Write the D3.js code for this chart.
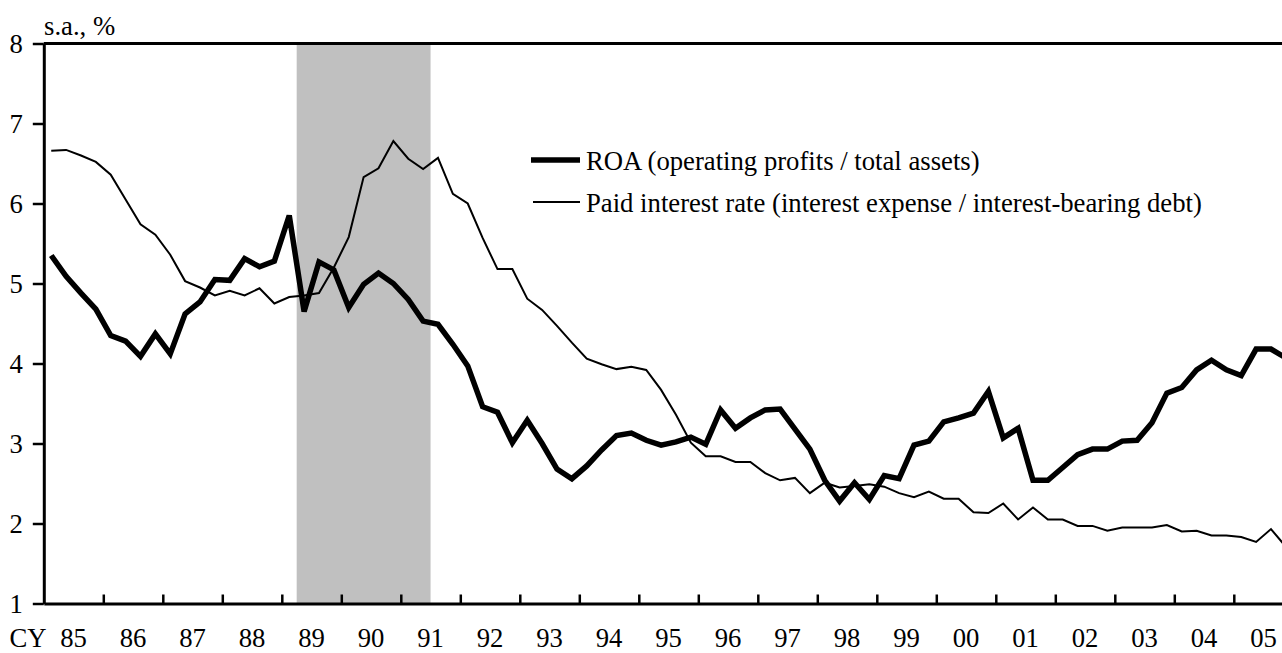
<!DOCTYPE html>
<html>
<head>
<meta charset="utf-8">
<script src="https://cdn.jsdelivr.net/npm/d3@7"></script>
<style>
  html, body { margin: 0; padding: 0; background: #fff; overflow: hidden; }
  svg { display: block; }
  text { font-family: "Liberation Serif", "Times New Roman", serif; font-size: 26.7px; fill: #000; }
</style>
</head>
<body>
<svg id="chart" width="1282" height="653"></svg>
<script>
// Quarterly series, 1985 Q1 onward
const startYear = 1985;
const roa = [
  5.35, 5.09, 4.88, 4.68, 4.35, 4.28, 4.09, 4.37, 4.12, 4.62,
  4.77, 5.05, 5.04, 5.31, 5.21, 5.28, 5.85, 4.65, 5.27, 5.17,
  4.70, 4.99, 5.13, 5.00, 4.80, 4.53, 4.49, 4.24, 3.97, 3.46,
  3.39, 3.01, 3.29, 3.00, 2.68, 2.56, 2.72, 2.92, 3.10, 3.13,
  3.04, 2.98, 3.02, 3.08, 2.99, 3.42, 3.19, 3.32, 3.42, 3.43,
  3.18, 2.93, 2.54, 2.28, 2.51, 2.30, 2.60, 2.56, 2.98, 3.03,
  3.27, 3.32, 3.38, 3.65, 3.07, 3.19, 2.54, 2.54, 2.70, 2.86,
  2.93, 2.93, 3.03, 3.04, 3.26, 3.63, 3.70, 3.92, 4.04, 3.92,
  3.85, 4.18, 4.18, 4.07
];
const paidRate = [
  6.66, 6.67, 6.60, 6.52, 6.36, 6.05, 5.74, 5.61, 5.36, 5.03,
  4.95, 4.85, 4.91, 4.85, 4.94, 4.75, 4.83, 4.85, 4.88, 5.20,
  5.58, 6.33, 6.44, 6.78, 6.56, 6.43, 6.57, 6.12, 6.00, 5.57,
  5.18, 5.18, 4.81, 4.67, 4.47, 4.26, 4.06, 3.99, 3.93, 3.96,
  3.92, 3.67, 3.36, 3.01, 2.84, 2.84, 2.77, 2.77, 2.63, 2.54,
  2.57, 2.38, 2.51, 2.45, 2.47, 2.49, 2.46, 2.38, 2.33, 2.40,
  2.31, 2.31, 2.14, 2.13, 2.25, 2.05, 2.20, 2.05, 2.05, 1.97,
  1.97, 1.91, 1.95, 1.95, 1.95, 1.98, 1.90, 1.91, 1.85, 1.85,
  1.83, 1.77, 1.93, 1.71
];
const yearLabels = ["85","86","87","88","89","90","91","92","93","94","95",
                    "96","97","98","99","00","01","02","03","04","05"];
const yTicks = [1, 2, 3, 4, 5, 6, 7, 8];
const shadedPeriod = [1989.25, 1991.5];
const seriesNames = ["ROA (operating profits / total assets)",
                     "Paid interest rate (interest expense / interest-bearing debt)"];

const svg = d3.select("#chart");
const W = 1282;

const left = 43.8, yearWidth = 59.5;
const x = d3.scaleLinear()
  .domain([startYear, startYear + yearLabels.length])
  .range([left, left + yearLabels.length * yearWidth]);
const y = d3.scaleLinear().domain([1, 8]).range([603.5, 43.5]);

const qx = i => x(startYear + (i + 0.5) / 4);

// shaded period
svg.append("rect")
  .attr("x", x(shadedPeriod[0]))
  .attr("y", y(8))
  .attr("width", x(shadedPeriod[1]) - x(shadedPeriod[0]))
  .attr("height", y(1) - y(8))
  .attr("fill", "#c0c0c0");

// y axis
const yAxis = svg.append("g")
  .attr("transform", `translate(${left},0)`)
  .call(d3.axisLeft(y).tickValues(yTicks).tickFormat(d3.format("d"))
        .tickSize(11).tickSizeOuter(0).tickPadding(10));
yAxis.select(".domain").attr("stroke", "#000").attr("stroke-width", 3);
yAxis.selectAll(".tick line").attr("stroke", "#000").attr("stroke-width", 2.5);
yAxis.selectAll(".tick text")
  .style("font-family", '"Liberation Serif", "Times New Roman", serif')
  .style("font-size", "26.7px").attr("fill", "#000");

// top frame
svg.append("line")
  .attr("x1", left).attr("x2", W + 20)
  .attr("y1", y(8)).attr("y2", y(8))
  .attr("stroke", "#000").attr("stroke-width", 3);

// x axis with year boundary ticks pointing up
const xAxis = svg.append("g")
  .attr("transform", `translate(0,${y(1)})`)
  .call(d3.axisBottom(x)
        .tickValues(d3.range(startYear + 1, startYear + yearLabels.length + 1))
        .tickFormat("").tickSize(-9).tickSizeOuter(0));
xAxis.select(".domain").attr("stroke", "#000").attr("stroke-width", 3);
xAxis.selectAll(".tick line").attr("stroke", "#000").attr("stroke-width", 2.5);

// year labels centred in each year
svg.append("g").selectAll("text")
  .data(yearLabels)
  .join("text")
  .attr("x", (d, i) => x(startYear + i + 0.5))
  .attr("y", 647)
  .attr("text-anchor", "middle")
  .text(d => d);

svg.append("text").attr("x", 9.5).attr("y", 647).text("CY");
svg.append("text").attr("x", 44).attr("y", 35).text("s.a., %");

// series lines
const line = d3.line().x((d, i) => qx(i)).y(d => y(d));

svg.append("path")
  .datum(paidRate)
  .attr("d", line)
  .attr("fill", "none")
  .attr("stroke", "#000")
  .attr("stroke-width", 2)
  .attr("stroke-linejoin", "miter");

svg.append("path")
  .datum(roa)
  .attr("d", line)
  .attr("fill", "none")
  .attr("stroke", "#000")
  .attr("stroke-width", 5.5)
  .attr("stroke-linejoin", "miter");

// legend
const legend = svg.append("g");
const legendRows = [
  { name: seriesNames[0], width: 5.5, x1: 531, ly: 160 },
  { name: seriesNames[1], width: 2, x1: 533, ly: 202 }
];
legendRows.forEach(r => {
  legend.append("line")
    .attr("x1", r.x1).attr("x2", 580)
    .attr("y1", r.ly).attr("y2", r.ly)
    .attr("stroke", "#000").attr("stroke-width", r.width);
  legend.append("text")
    .attr("x", 586).attr("y", r.ly + 10)
    .text(r.name);
});
</script>
</body>
</html>
